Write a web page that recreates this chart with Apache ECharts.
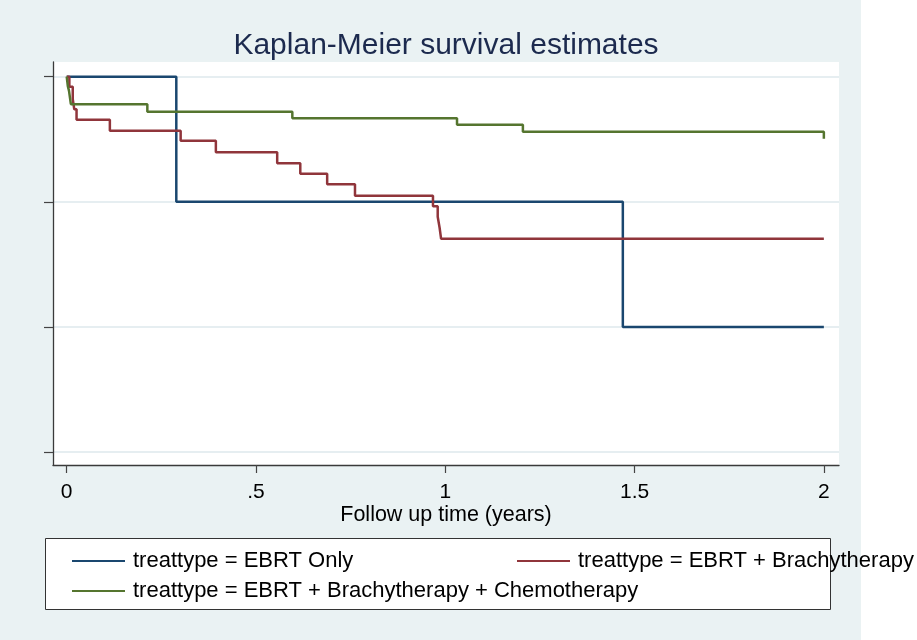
<!DOCTYPE html>
<html>
<head>
<meta charset="utf-8">
<script src="https://cdn.jsdelivr.net/npm/echarts@6/dist/echarts.min.js"></script>
<style>
html,body{margin:0;padding:0;background:#fff;}
#chart{width:917px;height:640px;background:linear-gradient(to right,#EAF2F3 0,#EAF2F3 861px,#ffffff 861px);}
</style>
</head>
<body>
<div id="chart"></div>
<script>
// Follow up time (years), survival estimate
const seriesNames = [
  'treattype = EBRT Only',
  'treattype = EBRT + Brachytherapy',
  'treattype = EBRT + Brachytherapy + Chemotherapy'
];
const ebrtOnly = [[0,1],[0.2895,0.75],[1.469,0.5],[2.0,0.5]];
const ebrtBrachy = [
  [0,1],[0.007,0.980],[0.016,0.955],[0.020,0.935],[0.026,0.914],
  [0.114,0.892],[0.301,0.872],[0.394,0.849],[0.556,0.827],[0.617,0.806],
  [0.688,0.785],[0.7615,0.762],[0.9675,0.741],[0.980,0.720],[0.985,0.698],
  [0.989,0.676],[2.0,0.676]
];
const ebrtBrachyChemo = [
  [0,1],[0.003,0.981],[0.006,0.972],[0.011,0.945],[0.213,0.930],
  [0.596,0.917],[1.031,0.904],[1.205,0.890],[2.0,0.876]
];
const xTickValues = [0, 0.5, 1, 1.5, 2];
const xTickLabels = ['0', '.5', '1', '1.5', '2'];
const yTickValues = [0.25, 0.5, 0.75, 1];

const FONT = "'Liberation Sans', Arial, Helvetica, sans-serif";
const colors = ['#1A476F', '#90353B', '#55752F'];

const chart = echarts.init(document.getElementById('chart'), null, {renderer: 'canvas'});

function legendItem(name, left, top) {
  return {
    data: [name], left: left, top: top, padding: 0, orient: 'horizontal',
    icon: 'rect', itemWidth: 53, itemHeight: 2, selectedMode: false,
    textStyle: {fontFamily: FONT, fontSize: 22, color: '#000', lineHeight: 22, padding: [0,0,0,3]}
  };
}

const option = {
  animation: false,
  backgroundColor: 'transparent',
  color: colors,
  title: {
    text: 'Kaplan-Meier survival estimates',
    left: 446, textAlign: 'center', top: 31,
    padding: 0,
    textStyle: {fontFamily: FONT, fontSize: 30, fontWeight: 'normal', color: '#1c2a4e', lineHeight: 30}
  },
  graphic: [{
    type: 'rect', z: 0,
    shape: {x: 45.5, y: 538.5, width: 785, height: 71},
    style: {fill: '#ffffff', stroke: '#333333', lineWidth: 1}
  }],
  legend: [
    legendItem(seriesNames[0], 72, 550),
    legendItem(seriesNames[1], 517, 550),
    legendItem(seriesNames[2], 72, 580)
  ],
  grid: {
    left: 53, right: 78, top: 62, bottom: 175,
    show: true, backgroundColor: '#ffffff', borderWidth: 0
  },
  xAxis: {
    type: 'value', min: -0.0362, max: 2.04,
    name: 'Follow up time (years)', nameLocation: 'middle', nameGap: 39,
    nameMoveOverlap: false,
    nameTextStyle: {fontFamily: FONT, fontSize: 21.5, color: '#000', lineHeight: 22},
    axisLine: {show: true, onZero: false, lineStyle: {color: '#3a3a3a', width: 1.3}},
    axisTick: {show: true, customValues: xTickValues, length: 8, lineStyle: {color: '#444', width: 1.2}},
    axisLabel: {
      show: true, customValues: xTickValues, margin: 17,
      fontFamily: FONT, fontSize: 21, color: '#000', lineHeight: 21,
      formatter: function (v) {
        const i = xTickValues.findIndex(t => Math.abs(t - v) < 1e-9);
        return i >= 0 ? xTickLabels[i] : '';
      }
    },
    splitLine: {show: false}
  },
  yAxis: {
    type: 'value', min: 0.224, max: 1.0293,
    axisLine: {show: true, onZero: false, lineStyle: {color: '#3a3a3a', width: 1.3}},
    axisTick: {show: true, customValues: yTickValues, length: 9, lineStyle: {color: '#444', width: 1.2}},
    axisLabel: {show: false, customValues: yTickValues},
    splitLine: {show: true, lineStyle: {color: '#E6EEF1', width: 2}}
  },
  series: [
    {name: seriesNames[0], type: 'line', step: 'end', data: ebrtOnly, showSymbol: false, symbol: 'none',
      lineStyle: {width: 2.5, color: colors[0]}, itemStyle: {color: colors[0]}},
    {name: seriesNames[1], type: 'line', step: 'end', data: ebrtBrachy, showSymbol: false, symbol: 'none',
      lineStyle: {width: 2.5, color: colors[1]}, itemStyle: {color: colors[1]}},
    {name: seriesNames[2], type: 'line', step: 'end', data: ebrtBrachyChemo, showSymbol: false, symbol: 'none',
      lineStyle: {width: 2.5, color: colors[2]}, itemStyle: {color: colors[2]}}
  ]
};
chart.setOption(option);
</script>
</body>
</html>
